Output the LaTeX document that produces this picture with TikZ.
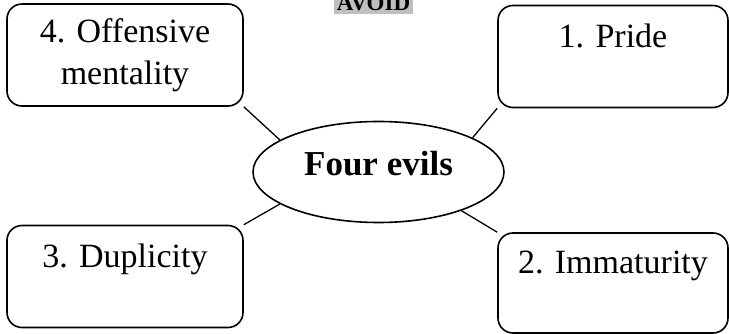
\documentclass[tikz,border=0pt]{standalone}
\usepackage{fontspec}
\setmainfont{Liberation Serif}
\usetikzlibrary{shapes.geometric}
\tikzset{
  evilbox/.style={draw, rounded corners=15pt, line width=1.6pt, minimum width=236pt,
    minimum height=102pt, align=center, font=\fontsize{34}{42}\selectfont},
  hub/.style={draw, ellipse, line width=1.6pt, minimum width=251pt, minimum height=101pt,
    text depth=18pt, font=\fontsize{35}{42}\selectfont\bfseries},
  banner/.style={fill=black!25, inner sep=3pt, font=\fontsize{23}{27}\selectfont\bfseries},
  spoke/.style={line width=1.3pt}
}
\begin{document}
\begin{tikzpicture}
    \def\x{1pt}
    \def\y{-1pt}
    \useasboundingbox (0,0) rectangle (729*\x, 334*\y);
    \clip (0,0) rectangle (729*\x, 334*\y);
    \node [banner,anchor=south] (T0) at (373.5*\x, 14*\y) {AVOID};
    \node [hub] (C0) at (378.5*\x, 172*\y) {Four evils};
    \node [evilbox] (E4) at (125*\x, 55*\y) {4. Offensive\\mentality};
    \node [evilbox,minimum width=230pt] (E1) at (613*\x, 56.5*\y) {1. Pride\\ \mbox{}};
    \node [evilbox] (E3) at (125*\x, 276.5*\y) {3. Duplicity\\ \mbox{}};
    \node [evilbox,minimum width=230pt,minimum height=100pt] (E2) at (613*\x, 283*\y) {2. Immaturity\\ \mbox{}};
    \path (E4.south east) edge [spoke] (C0.162);
    \path (E1.south west) edge [spoke] (C0.20);
    \path (E3.north east) edge [spoke] (C0.198);
    \path (E2.north west) edge [spoke] (C0.335);
  \end{tikzpicture}
\end{document}
